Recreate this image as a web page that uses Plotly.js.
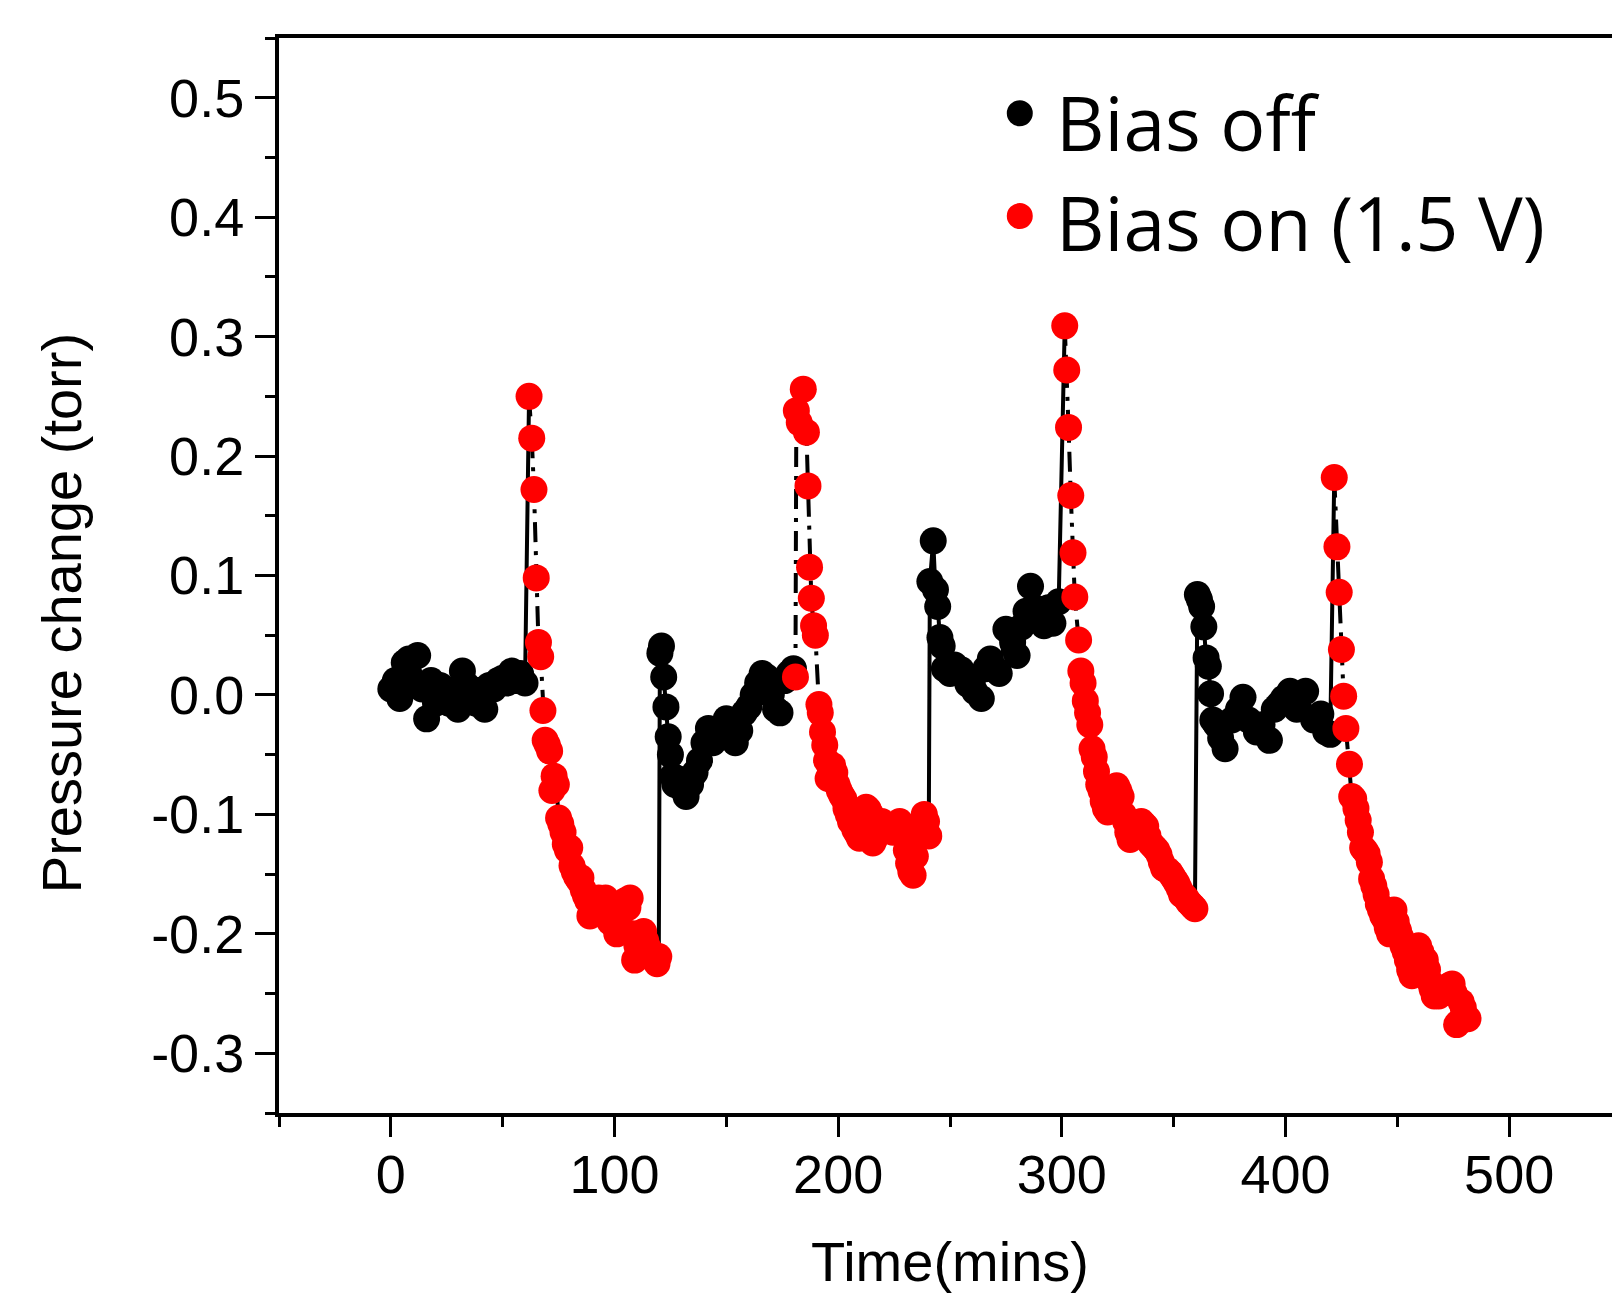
<!DOCTYPE html>
<html><head><meta charset="utf-8">
<script src="https://cdn.plot.ly/plotly-3.0.1.min.js"></script>
<style>html,body{margin:0;padding:0;overflow:hidden;background:#fff;width:1612px;height:1293px}#chart{width:1640px;height:1293px}</style>
</head><body><div id="chart"></div>
<script>
// Bias off (black)
const timeOff = [
  0,2,4,6,8,10,12,14,16,18,20,22,24,26,28,30,32,34,36,38,40,42,44,46,48,50,52,54,56,58,60,
  120.3,121,122,123,124,125,126,127,128,130,132,134,136,138,140,142,144,146,148,150,152,154,156,158,160,162,164,166,168,170,172,174,176,178,180,
  241,242.5,243.5,244.5,245.5,246.5,247.5,250,252,255,258,261,264,266,268,270,272,275,278,280,282,284,286,288,290,292,294,296,298.6,
  360.6,361.5,362.5,363.5,364.5,365.5,366.5,367.5,369,371,373,376,379,381,383.5,387,389.5,392.8,395,397,399,402,405,409,412.6,415.8,418,420
];
const pressureOff = [
  0.005,0.012,-0.003,0.027,0.03,0.012,0.033,0.005,-0.02,0.012,-0.007,0.008,-0.004,-0.007,0.004,-0.012,0.02,0.008,-0.005,-0.007,0.004,-0.012,0.008,0.005,0.012,0.014,0.01,0.02,0.012,0.018,0.01,
  0.035,0.041,0.015,-0.01,-0.035,-0.05,-0.068,-0.075,-0.07,-0.078,-0.085,-0.075,-0.065,-0.055,-0.04,-0.028,-0.04,-0.03,-0.035,-0.02,-0.025,-0.04,-0.03,-0.015,-0.01,0.0,0.01,0.018,0.015,0.0,-0.012,-0.015,0.012,0.018,0.022,
  0.095,0.129,0.088,0.074,0.048,0.041,0.022,0.018,0.025,0.021,0.009,0.003,-0.003,0.022,0.03,0.022,0.018,0.055,0.044,0.033,0.057,0.07,0.091,0.073,0.065,0.058,0.073,0.06,0.078,
  0.084,0.08,0.074,0.057,0.031,0.024,0.001,-0.021,-0.025,-0.036,-0.045,-0.021,-0.012,-0.002,-0.021,-0.031,-0.025,-0.038,-0.012,-0.008,-0.003,0.003,-0.012,0.003,-0.021,-0.016,-0.031,-0.033
];
// Bias on (1.5 V) (red)
const timeOn = [
  61.8,63,64,65,66,67,68,69,70,71,72,73,74,75,76,77,78,79,80,81,82,83,84,85,86,87,88,89,90,91,92,93,94,95,96,97,98,99,100,101,102,103,104,105,106,107,108,109,110,111,112,113,114,115,116,117,118,119,119.8,
  180.9,181.3,182.6,184.4,185.8,186.5,187.2,188,189,189.8,191.4,192,193,194,194.8,195.5,196.5,197.5,198.5,199.5,200.5,201.5,202.5,203.5,204.5,205.5,206.5,207.5,208.5,209.5,210.5,211.5,212.5,213.5,214.5,215.5,216.5,217.5,218.5,219.5,220.5,221.5,222.5,223.5,224.5,225.5,226.5,227.5,228.5,229.5,230.5,231.5,232.5,233.5,234.5,235.5,236.5,237.5,238.5,239.5,240.5,
  301.3,302.2,303,304,305,305.8,307.5,308.5,309.5,310.5,311.5,312.5,313.5,314.5,315.5,316.5,317.5,318.5,319.5,320.5,321.5,322.5,323.5,324.5,325.5,326.5,327.5,328.5,329.5,330.5,331.5,332.5,333.5,334.5,335.5,336.5,337.5,338.5,339.5,340.5,341.5,342.5,343.5,344.5,345.5,346.5,347.5,348.5,349.5,350.5,351.5,352.5,353.5,354.5,355.5,356.5,357.5,358.5,359.5,
  421.8,423,424,425,426,427,428.6,429.6,430.5,431.5,432.5,433.5,434.5,435.5,436.5,437.5,438.5,439.5,440.5,441.5,442.5,443.5,444.5,445.5,446.5,447.5,448.5,449.5,450.5,451.5,452.5,453.5,454.5,455.5,456.5,457.5,458.5,459.5,460.5,461.5,462.5,463.5,464.5,465.5,466.5,467.5,468.5,469.5,470.5,471.5,472.5,473.5,474.5,475.5,476.5,477.5,478.5,479.5,480.5,481.6
];
const pressureOn = [
  0.25,0.215,0.172,0.098,0.044,0.032,-0.013,-0.038,-0.042,-0.047,-0.08,-0.068,-0.075,-0.103,-0.108,-0.115,-0.125,-0.13,-0.128,-0.143,-0.148,-0.152,-0.155,-0.153,-0.163,-0.168,-0.172,-0.185,-0.18,-0.176,-0.172,-0.17,-0.175,-0.183,-0.17,-0.177,-0.19,-0.185,-0.193,-0.2,-0.19,-0.178,-0.175,-0.172,-0.178,-0.17,-0.2,-0.222,-0.21,-0.2,-0.205,-0.198,-0.206,-0.212,-0.216,-0.22,-0.222,-0.225,-0.219,
  0.015,0.238,0.228,0.256,0.22,0.175,0.107,0.081,0.058,0.05,-0.008,-0.015,-0.031,-0.042,-0.055,-0.07,-0.062,-0.059,-0.065,-0.075,-0.08,-0.084,-0.087,-0.095,-0.1,-0.106,-0.108,-0.113,-0.116,-0.12,-0.118,-0.1,-0.094,-0.096,-0.1,-0.124,-0.12,-0.113,-0.11,-0.106,-0.108,-0.11,-0.112,-0.113,-0.115,-0.113,-0.108,-0.106,-0.112,-0.117,-0.13,-0.141,-0.148,-0.151,-0.135,-0.117,-0.112,-0.108,-0.1,-0.106,-0.118,
  0.309,0.272,0.224,0.167,0.119,0.082,0.046,0.02,0.01,-0.005,-0.015,-0.025,-0.045,-0.052,-0.064,-0.075,-0.08,-0.089,-0.095,-0.098,-0.092,-0.089,-0.08,-0.076,-0.08,-0.085,-0.1,-0.106,-0.115,-0.121,-0.118,-0.115,-0.113,-0.11,-0.106,-0.108,-0.11,-0.118,-0.124,-0.126,-0.128,-0.13,-0.134,-0.14,-0.145,-0.146,-0.147,-0.149,-0.152,-0.155,-0.158,-0.162,-0.167,-0.168,-0.17,-0.173,-0.175,-0.177,-0.179,
  0.182,0.124,0.086,0.038,-0.001,-0.028,-0.058,-0.085,-0.087,-0.095,-0.105,-0.115,-0.128,-0.13,-0.133,-0.14,-0.154,-0.16,-0.167,-0.175,-0.18,-0.185,-0.188,-0.195,-0.2,-0.185,-0.18,-0.19,-0.197,-0.203,-0.21,-0.215,-0.222,-0.23,-0.235,-0.222,-0.216,-0.21,-0.215,-0.22,-0.222,-0.23,-0.24,-0.246,-0.252,-0.25,-0.252,-0.25,-0.248,-0.246,-0.244,-0.243,-0.242,-0.25,-0.276,-0.274,-0.257,-0.262,-0.27,-0.271
];
const seriesNames = ['Bias off', 'Bias on (1.5 V)'];
const xTitle = 'Time(mins)';
const yTitle = 'Pressure change (torr)';
const xTickVals = [0, 100, 200, 300, 400, 500];
const xTickText = ['0', '100', '200', '300', '400', '500'];
const yTickVals = [-0.3, -0.2, -0.1, 0, 0.1, 0.2, 0.3, 0.4, 0.5];
const yTickText = ['-0.3', '-0.2', '-0.1', '0.0', '0.1', '0.2', '0.3', '0.4', '0.5'];

// split a series into its contiguous runs (separated by long time gaps)
function runs(t, v) {
  const out = []; let cur = null;
  for (let i = 0; i < t.length; i++) {
    if (!cur || t[i] - t[i - 1] > 10) { cur = {t: [], v: []}; out.push(cur); }
    cur.t.push(t[i]); cur.v.push(v[i]);
  }
  return out;
}
const offRuns = runs(timeOff, pressureOff);
const onRuns = runs(timeOn, pressureOn);

// solid connector line: each "off" run, joined to the neighbouring "on" run ends
const solidX = [], solidY = [];
offRuns.forEach((r, i) => {
  if (i > 0) { const p = onRuns[i - 1]; solidX.push(p.t[p.t.length - 1]); solidY.push(p.v[p.v.length - 1]); }
  solidX.push(...r.t); solidY.push(...r.v);
  if (i < onRuns.length) { solidX.push(onRuns[i].t[0]); solidY.push(onRuns[i].v[0]); }
  solidX.push(null); solidY.push(null);
});
// dash-dot line through each "on" run
const dashX = [], dashY = [];
onRuns.forEach(r => { dashX.push(...r.t, null); dashY.push(...r.v, null); });

const FONT = 'Liberation Sans, Arial, sans-serif';
const traces = [
  {x: solidX, y: solidY, mode: 'lines', line: {color: '#000', width: 4}, connectgaps: false, showlegend: false, hoverinfo: 'skip'},
  {x: dashX, y: dashY, mode: 'lines', line: {color: '#000', width: 4, dash: '20px,9px,4px,9px'}, connectgaps: false, showlegend: false, hoverinfo: 'skip'},
  {x: timeOff, y: pressureOff, mode: 'markers', name: seriesNames[0], marker: {color: '#000', size: 27}, showlegend: false},
  {x: timeOn, y: pressureOn, mode: 'markers', name: seriesNames[1], marker: {color: '#ff0000', size: 27}, showlegend: false}
];

const axisCommon = {
  showline: true, linewidth: 4, linecolor: '#000', mirror: true,
  showgrid: false, zeroline: false,
  ticks: 'outside', ticklen: 20, tickwidth: 3, tickcolor: '#000',
  tickfont: {family: FONT, size: 54, color: '#000'}
};

const layout = {
  width: 1640, height: 1293,
  margin: {l: 279, r: 19, t: 38, b: 180},
  paper_bgcolor: '#fff', plot_bgcolor: '#fff',
  showlegend: false,
  xaxis: Object.assign({}, axisCommon, {
    range: [-50, 550], tickmode: 'array', tickvals: xTickVals, ticktext: xTickText,
    ticklabelstandoff: -9,
    minor: {tickmode: 'linear', tick0: 0, dtick: 50, ticks: 'outside', ticklen: 10, tickwidth: 3, tickcolor: '#000', showgrid: false},
    title: {text: xTitle, font: {family: FONT, size: 56, color: '#000'}, standoff: 63}
  }),
  yaxis: Object.assign({}, axisCommon, {
    range: [-0.35, 0.55], tickmode: 'array', tickvals: yTickVals, ticktext: yTickText,
    minor: {tickmode: 'linear', tick0: 0, dtick: 0.05, ticks: 'outside', ticklen: 10, tickwidth: 3, tickcolor: '#000', showgrid: false}
  }),
  annotations: [
    {text: yTitle, xref: 'paper', yref: 'paper', x: -0.1624, y: 0.465, xanchor: 'center', yanchor: 'middle', textangle: -90, showarrow: false, font: {family: FONT, size: 56, color: '#000'}},
    {text: seriesNames[0], xref: 'paper', yref: 'paper', x: 0.5774, y: 0.9215, xanchor: 'left', yanchor: 'middle', showarrow: false, font: {family: 'Open Sans, sans-serif', size: 75, color: '#000'}},
    {text: seriesNames[1], xref: 'paper', yref: 'paper', x: 0.5774, y: 0.829, xanchor: 'left', yanchor: 'middle', showarrow: false, font: {family: 'Open Sans, sans-serif', size: 75, color: '#000'}}
  ],
  shapes: [
    {type: 'circle', xref: 'paper', yref: 'paper', xsizemode: 'pixel', ysizemode: 'pixel', xanchor: 0.552, yanchor: 0.930, x0: -13, x1: 13, y0: -13, y1: 13, fillcolor: '#000', line: {width: 0}},
    {type: 'circle', xref: 'paper', yref: 'paper', xsizemode: 'pixel', ysizemode: 'pixel', xanchor: 0.552, yanchor: 0.8344, x0: -13, x1: 13, y0: -13, y1: 13, fillcolor: '#ff0000', line: {width: 0}}
  ]
};

Plotly.newPlot('chart', traces, layout, {staticPlot: true, displayModeBar: false});
</script>
</body></html>
